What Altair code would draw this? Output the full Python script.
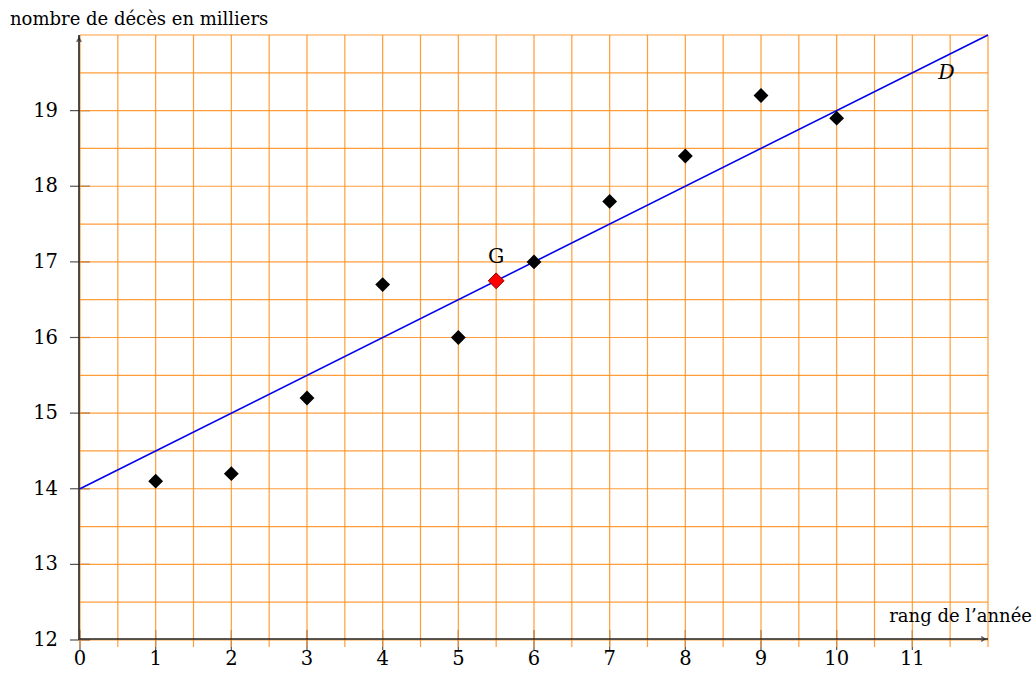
import altair as alt
import pandas as pd

# data
rang = [1, 2, 3, 4, 5, 6, 7, 8, 9, 10]
deces = [14.1, 14.2, 15.2, 16.7, 16.0, 17.0, 17.8, 18.4, 19.2, 18.9]
g_x = [5.5]
g_y = [16.75]
line_x = [0, 12]
line_y = [14, 20]
x_labels = list(range(0, 12))
y_labels = list(range(12, 20))
x_grid = [0.5 * i for i in range(0, 25)]
y_grid = [12 + 0.5 * i for i in range(0, 17)]

FONT = "DejaVu Serif"
FS = 19.5
TFS = 18
W, H = 908, 605

xs = alt.Scale(domain=[0, 12], nice=False, zero=False)
ys = alt.Scale(domain=[12, 20], nice=False, zero=False)

pts = pd.DataFrame({"x": rang, "y": deces})
gdf = pd.DataFrame({"x": g_x, "y": g_y, "lab": ["G"]})
ldf = pd.DataFrame({"x": line_x, "y": line_y})
xg = pd.DataFrame({"x": x_grid})
yg = pd.DataFrame({"y": y_grid})
xt = pd.DataFrame({"x": x_labels})
yt = pd.DataFrame({"y": y_labels})

grid_col = "#FF9224"

xticks = alt.Chart(xt).mark_rule(color="#555555", strokeWidth=1.2).encode(
    x=alt.X("x:Q", scale=xs, axis=None), y=alt.value(H - 10), y2=alt.value(H + 10))
yticks = alt.Chart(yt).mark_rule(color="#555555", strokeWidth=1.2).encode(
    y=alt.Y("y:Q", scale=ys, axis=None), x=alt.value(-10), x2=alt.value(10))

vgrid = alt.Chart(xg).mark_rule(color=grid_col, strokeWidth=1.2, opacity=0.9).encode(
    x=alt.X("x:Q", scale=xs, axis=None), y=alt.value(0), y2=alt.value(H + 7))
hgrid = alt.Chart(yg).mark_rule(color=grid_col, strokeWidth=1.2, opacity=0.9).encode(
    y=alt.Y("y:Q", scale=ys, axis=None), x=alt.value(0), x2=alt.value(W))

xaxis = alt.Chart(pd.DataFrame({"a": [0]})).mark_rule(color="#222222", strokeWidth=1.6).encode(
    x=alt.value(0), x2=alt.value(W), y=alt.value(H - 1))
yaxis = alt.Chart(pd.DataFrame({"a": [0]})).mark_rule(color="#222222", strokeWidth=1.6).encode(
    x=alt.value(-1), y=alt.value(0), y2=alt.value(H))

arrow_r = alt.Chart(pd.DataFrame({"a": [0]})).mark_point(
    shape="M-1,-0.6L0,0L-1,0.6", filled=False, stroke="#222222", strokeWidth=1.4, size=60
).encode(x=alt.value(W - 3), y=alt.value(H - 1))
arrow_u = alt.Chart(pd.DataFrame({"a": [0]})).mark_point(
    shape="M-0.6,1L0,0L0.6,1", filled=False, stroke="#222222", strokeWidth=1.4, size=60
).encode(x=alt.value(-1), y=alt.value(3))

xlab = alt.Chart(xt).mark_text(font=FONT, fontSize=FS, color="black", baseline="top").encode(
    x=alt.X("x:Q", scale=xs, axis=None), y=alt.value(H + 10), text="x:Q")
ylab = alt.Chart(yt).mark_text(font=FONT, fontSize=FS, color="black", align="right",
                               baseline="middle").encode(
    y=alt.Y("y:Q", scale=ys, axis=None), x=alt.value(-22), text="y:Q")

line = alt.Chart(ldf).mark_line(color="#0000EE", strokeWidth=1.6).encode(
    x=alt.X("x:Q", scale=xs, axis=None), y=alt.Y("y:Q", scale=ys, axis=None))

points = alt.Chart(pts).mark_point(shape="diamond", filled=True, color="black", size=220, opacity=1).encode(
    x=alt.X("x:Q", scale=xs, axis=None), y=alt.Y("y:Q", scale=ys, axis=None))

gpt = alt.Chart(gdf).mark_point(shape="diamond", filled=True, fill="#FF0000", stroke="#8B0000",
                                strokeWidth=1, size=250, opacity=1).encode(
    x=alt.X("x:Q", scale=xs, axis=None), y=alt.Y("y:Q", scale=ys, axis=None))
glab = alt.Chart(gdf).mark_text(font=FONT, fontSize=FS + 1, color="black", dy=-24).encode(
    x=alt.X("x:Q", scale=xs, axis=None), y=alt.Y("y:Q", scale=ys, axis=None), text="lab:N")

dlab = alt.Chart(pd.DataFrame({"x": [11.45], "y": [19.5], "lab": ["D"]})).mark_text(
    font=FONT, fontSize=FS + 1, fontStyle="italic", color="black").encode(
    x=alt.X("x:Q", scale=xs, axis=None), y=alt.Y("y:Q", scale=ys, axis=None), text="lab:N")

ytitle = alt.Chart(pd.DataFrame({"lab": ["nombre de décès en milliers"]})).mark_text(
    font=FONT, fontSize=TFS, color="black", align="left", baseline="middle").encode(
    x=alt.value(-70), y=alt.value(-15), text="lab:N")
xtitle = alt.Chart(pd.DataFrame({"lab": ["rang de l\u2019année"]})).mark_text(
    font=FONT, fontSize=TFS, color="black", align="right", baseline="middle").encode(
    x=alt.value(W + 44), y=alt.value(H - 23), text="lab:N")

chart = alt.layer(
    xticks, yticks, vgrid, hgrid, xaxis, yaxis, arrow_r, arrow_u,
    line, points, gpt, glab, dlab, xlab, ylab, ytitle, xtitle
).properties(
    width=W, height=H,
    padding={"left": 80, "top": 35, "right": 46, "bottom": 42},
    autosize=alt.AutoSizeParams(type="none"),
    background="white",
).configure_view(stroke=None)

chart.save("out.html", embed_options={"renderer": "svg", "actions": False})
